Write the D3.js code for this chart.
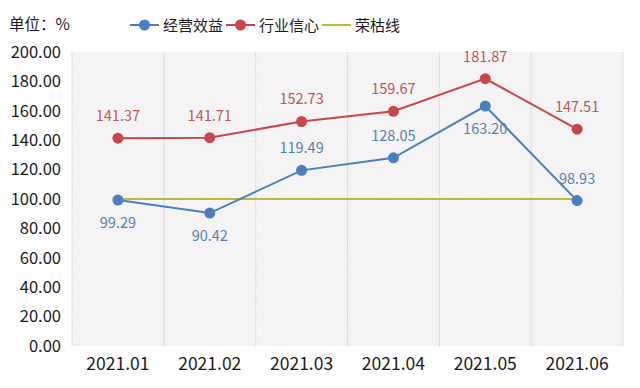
<!DOCTYPE html>
<html>
<head>
<meta charset="utf-8">
<script src="https://cdn.jsdelivr.net/npm/d3@7"></script>
<style>
body { margin: 0; background: #fff; }
text { font-family: "Noto Sans CJK SC", "Noto Sans", sans-serif; }
</style>
</head>
<body>
<div id="chart"></div>
<script>
// data
var months = ["2021.01", "2021.02", "2021.03", "2021.04", "2021.05", "2021.06"];
var operating = [99.29, 90.42, 119.49, 128.05, 163.20, 98.93];
var confidence = [141.37, 141.71, 152.73, 159.67, 181.87, 147.51];
var boomLine = [100, 100, 100, 100, 100, 100];
// label above (-1) or below (1) the point for the blue series
var operatingSide = [1, 1, -1, -1, 1, -1];
var yTicks = [0, 20, 40, 60, 80, 100, 120, 140, 160, 180, 200];

var width = 640, height = 388;
var margin = { top: 52, right: 17, bottom: 42, left: 72 };

var svg = d3.select("#chart").append("svg")
	.attr("width", width)
	.attr("height", height);

// hatch pattern for the plot background
var defs = svg.append("defs");
var pat = defs.append("pattern")
	.attr("id", "hatch")
	.attr("patternUnits", "userSpaceOnUse")
	.attr("width", 3)
	.attr("height", 3)
	.attr("patternTransform", "rotate(-45)");
pat.append("rect").attr("width", 3).attr("height", 3).attr("fill", "#f8f7f8");
pat.append("line")
	.attr("x1", 0).attr("y1", 0).attr("x2", 0).attr("y2", 3)
	.attr("stroke", "#ebe7ea").attr("stroke-width", 1.2);

var x = d3.scaleBand()
	.domain(months)
	.range([margin.left, width - margin.right]);

var y = d3.scaleLinear()
	.domain([0, 200])
	.range([height - margin.bottom, margin.top]);

var cx = function(d, i) { return x(months[i]) + x.bandwidth() / 2; };

svg.append("rect")
	.attr("x", margin.left)
	.attr("y", margin.top)
	.attr("width", width - margin.left - margin.right)
	.attr("height", height - margin.top - margin.bottom)
	.attr("fill", "url(#hatch)");

// vertical gridlines at category edges
var edges = months.map(function(m) { return x(m); }).concat([width - margin.right]);
svg.selectAll(".vgrid")
	.data(edges)
	.enter().append("line")
	.attr("class", "vgrid")
	.attr("x1", function(d) { return d; })
	.attr("x2", function(d) { return d; })
	.attr("y1", margin.top)
	.attr("y2", height - margin.bottom)
	.attr("stroke", "#dedede")
	.attr("stroke-width", 1);

// y axis labels
var yAxis = svg.append("g")
	.attr("transform", "translate(" + (margin.left - 11) + ",0)")
	.call(d3.axisLeft(y).tickValues(yTicks).tickFormat(d3.format(".2f")).tickSize(0).tickPadding(0));
yAxis.select(".domain").remove();
yAxis.selectAll("text")
	.attr("font-size", 16.5)
	.attr("fill", "#1a1a1a")
	.style("font-family", "'Noto Sans CJK SC', sans-serif");

// x axis labels
var xAxis = svg.append("g")
	.attr("transform", "translate(0," + (height - margin.bottom) + ")")
	.call(d3.axisBottom(x).tickSize(0).tickPadding(12));
xAxis.select(".domain").remove();
xAxis.selectAll("text")
	.attr("font-size", 17.5)
	.attr("fill", "#1a1a1a")
	.style("font-family", "'Noto Sans CJK SC', sans-serif");

var line = d3.line()
	.x(cx)
	.y(function(d) { return y(d); });

// 荣枯线
svg.append("path")
	.datum(boomLine)
	.attr("d", line)
	.attr("fill", "none")
	.attr("stroke", "#b8ba3c")
	.attr("stroke-width", 2);

function drawSeries(values, color, labelColor, sides) {
	svg.append("path")
		.datum(values)
		.attr("d", line)
		.attr("fill", "none")
		.attr("stroke", color)
		.attr("stroke-width", 2);
	svg.selectAll(null)
		.data(values)
		.enter().append("circle")
		.attr("cx", cx)
		.attr("cy", function(d) { return y(d); })
		.attr("r", 5.5)
		.attr("fill", color);
	svg.selectAll(null)
		.data(values)
		.enter().append("text")
		.attr("x", cx)
		.attr("y", function(d, i) { return sides[i] < 0 ? y(d) - 17 : y(d) + 28; })
		.attr("text-anchor", "middle")
		.attr("font-size", 14.5)
		.attr("fill", labelColor)
		.text(function(d) { return d.toFixed(2); });
}

drawSeries(confidence, "#c8474a", "#b9575a", confidence.map(function() { return -1; }));
drawSeries(operating, "#4a7fc1", "#5680b0", operatingSide);

// unit label
svg.append("text")
	.attr("x", 9)
	.attr("y", 30)
	.attr("font-size", 15.5)
	.attr("fill", "#1a1a1a")
	.text("单位：%");

// legend
var legendItems = [
	{ name: "经营效益", color: "#4a7fc1", dot: true, x: 130 },
	{ name: "行业信心", color: "#c8474a", dot: true, x: 226 },
	{ name: "荣枯线", color: "#b8ba3c", dot: false, x: 322 }
];
var lg = svg.selectAll(".legend")
	.data(legendItems)
	.enter().append("g")
	.attr("class", "legend")
	.attr("transform", function(d) { return "translate(" + d.x + ",25)"; });
lg.append("line")
	.attr("x1", 0).attr("x2", 29)
	.attr("stroke", function(d) { return d.color; })
	.attr("stroke-width", 2);
lg.filter(function(d) { return d.dot; }).append("circle")
	.attr("cx", 14.5).attr("r", 5.5)
	.attr("fill", function(d) { return d.color; });
lg.append("text")
	.attr("x", 33)
	.attr("y", 6)
	.attr("font-size", 15)
	.attr("fill", "#1a1a1a")
	.text(function(d) { return d.name; });
</script>
</body>
</html>
